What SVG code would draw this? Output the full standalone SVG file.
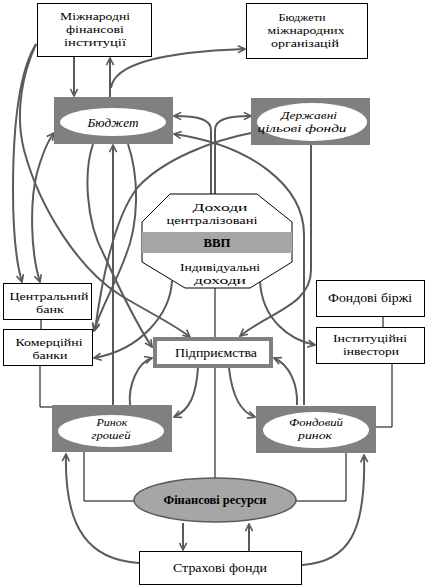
<svg xmlns="http://www.w3.org/2000/svg" width="427" height="588" viewBox="0 0 427 588">
<style>
.t{font-family:"Liberation Serif","Times New Roman",serif;font-size:11px;fill:#000;text-anchor:middle}
.i{font-style:italic}
.b{font-weight:bold}
.m{font-size:12px}
.box{fill:#fff;stroke:#000;stroke-width:1}
.gr{fill:#808080}
.el{fill:#fff}
.c{fill:none;stroke:#5a5a5a;stroke-width:2}
.a{marker-end:url(#ah)}
.bi{marker-start:url(#ah);marker-end:url(#ah)}
.k{fill:none;stroke:#000;stroke-width:1}
</style>
<defs>
<marker id="ah" viewBox="0 0 10 10" refX="9" refY="5" markerWidth="9" markerHeight="9" orient="auto-start-reverse" markerUnits="userSpaceOnUse">
<path d="M1,1 L9,5 L1,9" fill="none" stroke="#5a5a5a" stroke-width="1.8"/>
</marker>
</defs>
<rect width="427" height="588" fill="#fff"/>
<g id="connectors">
<path class="c a" d="M74,57 L74,96"/>
<path class="c a" d="M110,97 L110,58"/>
<path class="c a" d="M111,88 C114,64 160,52 245,49"/>
<path class="c a" d="M36,44 C20,70 13,120 13,190 C13,240 17,265 22,282"/>
<path class="c a" d="M36,44 C24,70 14,110 24,150 C40,210 80,270 120,295 C150,313 175,325 190,337"/>
<path class="c bi" d="M40,282 C30,250 30,200 37,173 C42,155 47,142 54,133"/>
<path class="c a" d="M113,405 L113,145"/>
<path class="c a" d="M93,144 C84,170 85,220 104,255 C120,290 137,325 152,347"/>
<path class="c a" d="M128,144 C140,180 138,225 126,255 C115,285 100,310 94,331"/>
<path class="c a" d="M251,133 C215,140 165,158 138,187 C118,212 104,265 95,330"/>
<path class="c a" d="M172,281 C170,315 140,350 94,358"/>
<path class="c a" d="M211,194 L211,130 C211,120 200,116 174,116"/>
<path class="c a" d="M215,194 L215,130 C215,120 226,116 251,116"/>
<path class="c a" d="M304,405 L304,235 C304,185 250,145 174,134"/>
<path class="c a" d="M311,145 L311,270 C311,305 270,312 240,336"/>
<path class="c a" d="M260,281 C262,320 290,340 315,345"/>
<path class="c a" d="M130,405 C128,385 138,362 152,358"/>
<path class="c a" d="M198,368 C196,395 190,410 174,417"/>
<path class="c a" d="M229,368 C232,395 240,412 255,417"/>
<path class="c a" d="M297,405 C298,385 290,365 274,358"/>
<path class="c a" d="M139,563 C90,560 64,530 66,454"/>
<path class="c a" d="M302,565 C350,562 366,530 364,455"/>
<path class="c a" d="M183,523 L183,550"/>
<path class="c a" d="M249,551 L249,524"/>
<path class="k" d="M41,320 L41,329"/>
<path class="k" d="M383,317 L383,327"/>
<path class="k" d="M40,366 L40,407 L52,407"/>
<path class="k" d="M392,364 L392,427 L376,427"/>
<path class="k" d="M84,452 L84,501 L134,501"/>
<path class="k" d="M346,453 L346,501 L296,501"/>
<path class="k" d="M215,288 L215,337"/>
<path class="k" d="M215,368 L215,478"/>
</g>
<g id="mfi">
<rect class="box" x="37.5" y="3.5" width="114" height="53"/>
<text class="t" x="95" y="20" textLength="70" lengthAdjust="spacingAndGlyphs">Міжнародні</text>
<text class="t" x="95" y="33" textLength="58" lengthAdjust="spacingAndGlyphs">фінансові</text>
<text class="t" x="95" y="46" textLength="62" lengthAdjust="spacingAndGlyphs">інституції</text>
</g>
<g id="bmo">
<rect class="box" x="246.5" y="3.5" width="121" height="55"/>
<text class="t" x="302" y="21" textLength="47" lengthAdjust="spacingAndGlyphs">Бюджети</text>
<text class="t" x="306" y="34" textLength="77" lengthAdjust="spacingAndGlyphs">міжнародних</text>
<text class="t" x="305" y="47" textLength="68" lengthAdjust="spacingAndGlyphs">організацій</text>
</g>
<g id="budget">
<rect class="gr" x="54" y="97" width="119" height="47"/>
<ellipse class="el" cx="113" cy="122" rx="53" ry="14"/>
<text class="t i m" x="113" y="127" textLength="51" lengthAdjust="spacingAndGlyphs">Бюджет</text>
</g>
<g id="dcf">
<rect class="gr" x="251" y="98" width="119" height="47"/>
<ellipse class="el" cx="312" cy="122" rx="55" ry="19"/>
<text class="t i" x="309" y="119" textLength="56" lengthAdjust="spacingAndGlyphs">Державні</text>
<text class="t i" x="302" y="132" textLength="89" lengthAdjust="spacingAndGlyphs">цільові фонди</text>
</g>
<g id="vvp">
<polygon points="170,194 257,194 292,222 292,262 250,288 185,288 142,262 142,222" fill="#fff" stroke="#000" stroke-width="1"/>
<rect x="142" y="232" width="150" height="21" fill="#a6a6a6"/>
<text class="t" x="220" y="211" textLength="55" lengthAdjust="spacingAndGlyphs">Доходи</text>
<text class="t" x="212" y="224" textLength="91" lengthAdjust="spacingAndGlyphs">централізовані</text>
<text class="t b m" x="217" y="247" textLength="27" lengthAdjust="spacingAndGlyphs">ВВП</text>
<text class="t" x="220" y="271" textLength="80" lengthAdjust="spacingAndGlyphs">Індивідуальні</text>
<text class="t" x="220" y="284" textLength="52" lengthAdjust="spacingAndGlyphs">доходи</text>
</g>
<g id="cb">
<rect class="box" x="3.5" y="283.5" width="88" height="36"/>
<text class="t" x="49" y="300" textLength="79" lengthAdjust="spacingAndGlyphs">Центральний</text>
<text class="t" x="50" y="313" textLength="28" lengthAdjust="spacingAndGlyphs">банк</text>
</g>
<g id="kb">
<rect class="box" x="3.5" y="329.5" width="89" height="36"/>
<text class="t" x="49" y="346" textLength="67" lengthAdjust="spacingAndGlyphs">Комерційні</text>
<text class="t" x="50" y="359" textLength="35" lengthAdjust="spacingAndGlyphs">банки</text>
</g>
<g id="pidpr">
<rect x="155" y="339" width="116" height="27" fill="#fff" stroke="#808080" stroke-width="4"/>
<text class="t m" x="216" y="357" textLength="82" lengthAdjust="spacingAndGlyphs">Підприємства</text>
</g>
<g id="fb">
<rect class="box" x="316.5" y="280.5" width="108" height="36"/>
<text class="t m" x="370" y="302" textLength="84" lengthAdjust="spacingAndGlyphs">Фондові біржі</text>
</g>
<g id="ii">
<rect class="box" x="316.5" y="327.5" width="108" height="36"/>
<text class="t" x="370" y="342" textLength="74" lengthAdjust="spacingAndGlyphs">Інституційні</text>
<text class="t" x="371" y="355" textLength="56" lengthAdjust="spacingAndGlyphs">інвестори</text>
</g>
<g id="rg">
<rect class="gr" x="52" y="405" width="120" height="47"/>
<ellipse class="el" cx="111" cy="431" rx="53" ry="16"/>
<text class="t i" x="112" y="426" textLength="31" lengthAdjust="spacingAndGlyphs">Ринок</text>
<text class="t i" x="111" y="439" textLength="39" lengthAdjust="spacingAndGlyphs">грошей</text>
</g>
<g id="fr">
<rect class="gr" x="256" y="406" width="120" height="47"/>
<ellipse class="el" cx="316" cy="430" rx="53" ry="18"/>
<text class="t i" x="316" y="426" textLength="54" lengthAdjust="spacingAndGlyphs">Фондовий</text>
<text class="t i" x="315" y="439" textLength="34" lengthAdjust="spacingAndGlyphs">ринок</text>
</g>
<g id="finres">
<ellipse cx="215" cy="500" rx="81" ry="22" fill="#a6a6a6" stroke="#5a5a5a" stroke-width="1.5"/>
<text class="t b m" x="215" y="504" textLength="103" lengthAdjust="spacingAndGlyphs">Фінансові ресурси</text>
</g>
<g id="sf">
<rect class="box" x="139.5" y="551.5" width="162" height="33" stroke-width="1.5"/>
<text class="t m" x="220" y="572" textLength="94" lengthAdjust="spacingAndGlyphs">Страхові фонди</text>
</g>
</svg>
